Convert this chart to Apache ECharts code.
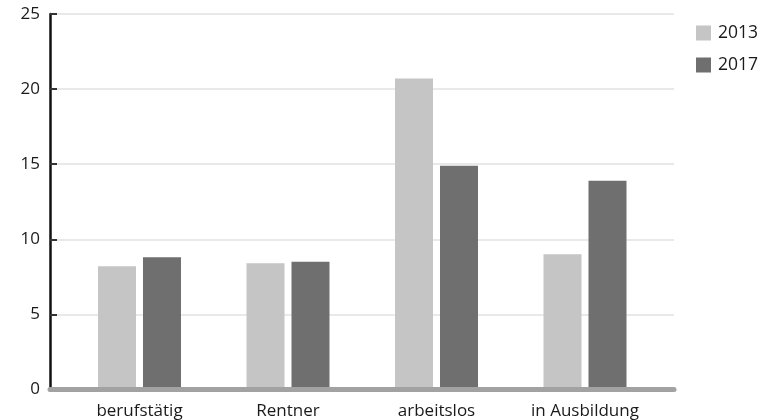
<!DOCTYPE html>
<html>
<head>
<meta charset="utf-8">
<script src="https://cdn.jsdelivr.net/npm/echarts@6/dist/echarts.min.js"></script>
<style>
  html, body { margin: 0; padding: 0; background: #fff; }
  #chart { width: 767px; height: 420px; }
</style>
</head>
<body>
<div id="chart"></div>
<script>
// Categories and values (percent)
const categories = ['berufstätig', 'Rentner', 'arbeitslos', 'in Ausbildung'];
const seriesNames = ['2013', '2017'];
const values2013 = [8.2, 8.4, 20.7, 9.0];
const values2017 = [8.8, 8.5, 14.9, 13.9];
const yTicks = [0, 5, 10, 15, 20, 25];

const FONT = '"Open Sans", sans-serif';
const TEXT = '#1a1a1a';
const LIGHT = '#c5c5c5';
const DARK = '#6f6f6f';

const chart = echarts.init(document.getElementById('chart'), null, { renderer: 'canvas' });

chart.setOption({
  animation: false,
  textStyle: { fontFamily: FONT },
  legend: {
    orient: 'vertical',
    left: 696,
    top: 24,
    padding: 0,
    itemWidth: 15,
    itemHeight: 15,
    itemGap: 14,
    icon: 'rect',
    textStyle: { fontFamily: FONT, fontSize: 17.5, color: TEXT, padding: [0, 0, 0, 2] },
    data: seriesNames
  },
  grid: [
    // plotting area for the bars
    { left: 65.25, right: 107.75, top: 14, bottom: 30.5, containLabel: false },
    // frame carrying the axis lines and gridlines
    { left: 50, right: 93, top: 14, bottom: 30.5, containLabel: false }
  ],
  xAxis: [
    {
      type: 'category',
      gridIndex: 0,
      data: categories,
      axisLine: { show: false },
      axisTick: { show: false },
      axisLabel: { fontFamily: FONT, fontSize: 17, color: TEXT, margin: 13 }
    },
    {
      type: 'category',
      gridIndex: 1,
      data: categories,
      offset: 2.5,
      axisLine: { show: true, lineStyle: { color: '#a2a2a2', width: 5 } },
      axisTick: { show: false },
      axisLabel: { show: false },
      z: 5
    }
  ],
  yAxis: [
    {
      type: 'value',
      gridIndex: 0,
      min: yTicks[0],
      max: yTicks[yTicks.length - 1],
      interval: 5,
      show: false
    },
    {
      type: 'value',
      gridIndex: 1,
      min: yTicks[0],
      max: yTicks[yTicks.length - 1],
      interval: 5,
      axisLine: { show: true, lineStyle: { color: '#111', width: 2.5 } },
      axisTick: { show: true, inside: true, length: 7, lineStyle: { color: '#333', width: 2 } },
      axisLabel: { fontFamily: FONT, fontSize: 17, color: TEXT, margin: 10 },
      splitLine: { show: true, lineStyle: { color: '#e2e2e2', width: 1.5 } }
    }
  ],
  series: [
    {
      name: seriesNames[0],
      type: 'bar',
      xAxisIndex: 0,
      yAxisIndex: 0,
      data: values2013,
      barWidth: 38,
      barGap: '18.4%',
      itemStyle: { color: LIGHT }
    },
    {
      name: seriesNames[1],
      type: 'bar',
      xAxisIndex: 0,
      yAxisIndex: 0,
      data: values2017,
      barWidth: 38,
      barGap: '18.4%',
      itemStyle: { color: DARK }
    }
  ]
});
</script>
</body>
</html>
